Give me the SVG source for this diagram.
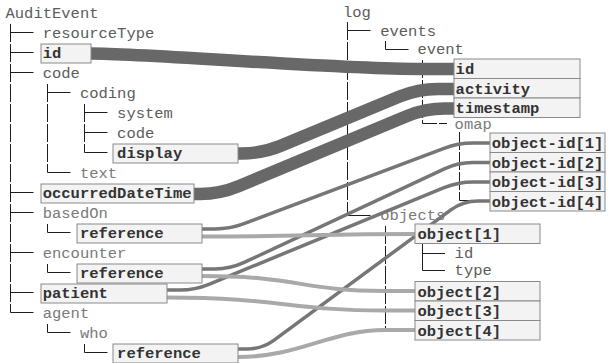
<svg xmlns="http://www.w3.org/2000/svg" width="608" height="363" viewBox="0 0 608 363">
  <style>
    text { font-family: "Liberation Mono", "Courier New", monospace; font-size: 15.5px; }
    .lbl { fill: #5c5c5c; }
    .lt { fill: #7a7a7a; }
    .bx rect { fill: #f3f3f3; stroke: #8a8a8a; stroke-width: 1; }
    .bx text { font-weight: bold; fill: #333333; }
    .tree { fill: none; stroke: #1e1e1e; stroke-width: 1; }
    .dash { stroke-dasharray: 18 2; }
    .thick { fill: none; stroke: #686868; stroke-width: 12.5; }
    .dark { fill: none; stroke: #767676; stroke-width: 3.5; }
    .light { fill: none; stroke: #a9a9a9; stroke-width: 4; }
  </style>

  <!-- source tree: AuditEvent -->
  <g id="audit-tree">
    <text class="lbl" x="5.5" y="18">AuditEvent</text>
    <text class="lbl" x="42.7" y="38">resourceType</text>
    <text class="lbl" x="42.7" y="78">code</text>
    <text class="lbl" x="79.9" y="98">coding</text>
    <text class="lbl" x="117.1" y="118">system</text>
    <text class="lbl" x="117.1" y="138">code</text>
    <text class="lt" x="79.9" y="178">text</text>
    <text class="lt" x="42.7" y="218">basedOn</text>
    <text class="lt" x="42.7" y="258">encounter</text>
    <text class="lt" x="42.7" y="318">agent</text>
    <text class="lt" x="79.9" y="338">who</text>
    <path class="tree dash" d="M10.5 24V312.5"/>
    <path class="tree" d="M10.5 32.5H33.5M10.5 52.5H33.5M10.5 72.5H33.5M10.5 192.5H33.5M10.5 212.5H33.5M10.5 252.5H33.5M10.5 292.5H33.5M10.5 312.5H33.5"/>
    <path class="tree dash" d="M47.5 84V172.5"/>
    <path class="tree" d="M47.5 224V232.5M47.5 264V272.5M47.5 324V332.5"/>
    <path class="tree" d="M47.5 92.5H70.5M47.5 172.5H70.5M47.5 232.5H70.5M47.5 272.5H70.5M47.5 332.5H70.5"/>
    <path class="tree dash" d="M84.5 104V152.5"/>
    <path class="tree" d="M84.5 344V352.5"/>
    <path class="tree" d="M84.5 112.5H107.5M84.5 132.5H107.5M84.5 152.5H107.5M84.5 352.5H107.5"/>
  </g>

  <!-- target tree: log -->
  <g id="log-tree">
    <text class="lbl" x="343" y="17">log</text>
    <text class="lbl" x="380.2" y="36">events</text>
    <text class="lbl" x="417.4" y="54">event</text>
    <text class="lt" x="454.6" y="129">omap</text>
    <text class="lt" x="380.2" y="220">objects</text>
    <text class="lbl" x="454.6" y="258">id</text>
    <text class="lbl" x="454.6" y="275">type</text>
    <path class="tree dash" d="M347.5 22V215.5"/>
    <path class="tree" d="M347.5 30.5H370.5M347.5 215.5H370.5"/>
    <path class="tree" d="M385.5 41V49.5H408.5"/>
    <path class="tree dash" d="M422.5 60V123.5H447"/>
    <path class="tree dash" d="M459.5 132V200.5H490"/>
    <path class="tree dash" d="M385.5 226V330H415"/>
    <path class="tree" d="M422.5 244V270.5H445M422.5 253.5H445"/>
  </g>

  <!-- mappings -->
  <g id="connectors">
    <path class="thick" d="M91 53.5C150 53.5 330 69 420 69L454 69"/>
    <path class="thick" d="M238 153.5L242 153.5Q262 153.5 280.5 145.9L399.5 96.6Q418 89 438 89L454 89"/>
    <path class="thick" d="M194 194L200 194Q220 194 238.5 186.3L406.5 116.2Q425 108.5 445 108.5L454 108.5"/>
    <path class="dark" d="M202 229L215 229Q230 229 244 223.7L444 148.3Q458 143 473 143L490 143"/>
    <path class="dark" d="M202 269L215 269Q230 269 243.6 262.7L444.4 168.8Q458 162.5 473 162.5L490 162.5"/>
    <path class="dark" d="M167 290L180 290Q195 290 208.9 284.3L444.1 187.7Q458 182 473 182L490 182"/>
    <path class="dark" d="M238 349L247 349Q262 349 274.1 340.1L450.9 209.9Q463 201 478 201L490 201"/>
    <path class="light" d="M202 236.5C300 236.5 320 234 415 234"/>
    <path class="light" d="M202 276C300 276 300 291 385 291L415 291"/>
    <path class="light" d="M167 297.5C280 297.5 290 310.5 385 310.5L415 310.5"/>
    <path class="light" d="M238 357C300 357 330 330 385 330L415 330"/>
  </g>

  <!-- AuditEvent fields -->
  <g id="ae-id" class="bx"><rect x="41" y="44" width="50" height="19"/><text x="42.7" y="58">id</text></g>
  <g id="ae-display" class="bx"><rect x="113" y="144" width="125" height="19"/><text x="117.1" y="158">display</text></g>
  <g id="ae-occurred" class="bx"><rect x="41" y="184" width="153" height="19"/><text x="42.7" y="198">occurredDateTime</text></g>
  <g id="ae-basedon-ref" class="bx"><rect x="77" y="224" width="125" height="19"/><text x="79.9" y="238">reference</text></g>
  <g id="ae-encounter-ref" class="bx"><rect x="77" y="264" width="125" height="19"/><text x="79.9" y="278">reference</text></g>
  <g id="ae-patient" class="bx"><rect x="41" y="284" width="126" height="19"/><text x="42.7" y="298">patient</text></g>
  <g id="ae-who-ref" class="bx"><rect x="113" y="344" width="125" height="19"/><text x="117.1" y="358">reference</text></g>

  <!-- log fields -->
  <g id="ev-id" class="bx"><rect x="454" y="59" width="126" height="19.5"/><text x="455.6" y="74">id</text></g>
  <g id="ev-activity" class="bx"><rect x="454" y="78.5" width="126" height="19.5"/><text x="455.6" y="93.5">activity</text></g>
  <g id="ev-timestamp" class="bx"><rect x="454" y="98" width="126" height="19.5"/><text x="455.6" y="113">timestamp</text></g>
  <g id="oid-1" class="bx"><rect x="490" y="133" width="115" height="19.5"/><text x="491.8" y="148">object-id[1]</text></g>
  <g id="oid-2" class="bx"><rect x="490" y="152.5" width="115" height="19.5"/><text x="491.8" y="167.5">object-id[2]</text></g>
  <g id="oid-3" class="bx"><rect x="490" y="172" width="115" height="19.5"/><text x="491.8" y="187">object-id[3]</text></g>
  <g id="oid-4" class="bx"><rect x="490" y="191.5" width="115" height="19.5"/><text x="491.8" y="206.5">object-id[4]</text></g>
  <g id="obj-1" class="bx"><rect x="415" y="224" width="125" height="19.5"/><text x="417.4" y="239">object[1]</text></g>
  <g id="obj-2" class="bx"><rect x="415" y="281.5" width="125" height="19.5"/><text x="417.4" y="296.5">object[2]</text></g>
  <g id="obj-3" class="bx"><rect x="415" y="301" width="125" height="19.5"/><text x="417.4" y="316">object[3]</text></g>
  <g id="obj-4" class="bx"><rect x="415" y="320.5" width="125" height="19.5"/><text x="417.4" y="335.5">object[4]</text></g>
</svg>
